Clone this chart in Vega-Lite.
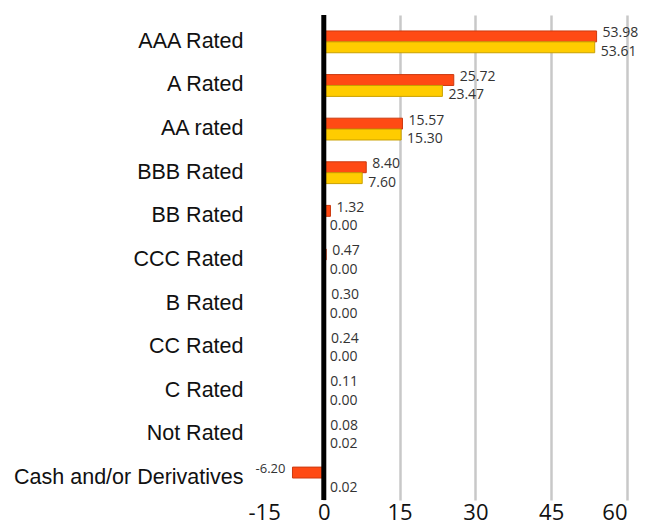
{
  "$schema": "https://vega.github.io/schema/vega-lite/v6.json",
  "autosize": {"type": "none"},
  "padding": {"left": 248, "top": 15, "right": 29, "bottom": 25},
  "width": 379,
  "height": 485,
  "background": "white",
  "config": {
    "view": {"stroke": null},
    "font": "Liberation Sans",
    "locale": {
      "number": {
        "decimal": ".",
        "thousands": ",",
        "grouping": [3],
        "currency": ["$", ""],
        "minus": "-"
      }
    }
  },
  "data": {
    "values": [
      {"cat": "AAA Rated", "series": "Fund", "value": 53.98},
      {"cat": "AAA Rated", "series": "Benchmark", "value": 53.61},
      {"cat": "A Rated", "series": "Fund", "value": 25.72},
      {"cat": "A Rated", "series": "Benchmark", "value": 23.47},
      {"cat": "AA rated", "series": "Fund", "value": 15.57},
      {"cat": "AA rated", "series": "Benchmark", "value": 15.30},
      {"cat": "BBB Rated", "series": "Fund", "value": 8.40},
      {"cat": "BBB Rated", "series": "Benchmark", "value": 7.60},
      {"cat": "BB Rated", "series": "Fund", "value": 1.32},
      {"cat": "BB Rated", "series": "Benchmark", "value": 0.00},
      {"cat": "CCC Rated", "series": "Fund", "value": 0.47},
      {"cat": "CCC Rated", "series": "Benchmark", "value": 0.00},
      {"cat": "B Rated", "series": "Fund", "value": 0.30},
      {"cat": "B Rated", "series": "Benchmark", "value": 0.00},
      {"cat": "CC Rated", "series": "Fund", "value": 0.24},
      {"cat": "CC Rated", "series": "Benchmark", "value": 0.00},
      {"cat": "C Rated", "series": "Fund", "value": 0.11},
      {"cat": "C Rated", "series": "Benchmark", "value": 0.00},
      {"cat": "Not Rated", "series": "Fund", "value": 0.08},
      {"cat": "Not Rated", "series": "Benchmark", "value": 0.02},
      {"cat": "Cash and/or Derivatives", "series": "Fund", "value": -6.20},
      {"cat": "Cash and/or Derivatives", "series": "Benchmark", "value": 0.02}
    ]
  },
  "encoding": {
    "y": {
      "field": "cat",
      "type": "nominal",
      "sort": ["AAA Rated", "A Rated", "AA rated", "BBB Rated", "BB Rated", "CCC Rated", "B Rated", "CC Rated", "C Rated", "Not Rated", "Cash and/or Derivatives"],
      "scale": {"paddingInner": 0.5, "paddingOuter": 0.31, "align": 0.59},
      "axis": {
        "title": null,
        "domain": false,
        "ticks": false,
        "labelFontSize": 21.5,
        "labelColor": "#111111",
        "labelPadding": 5,
        "labelLimit": 400,
        "labelFont": "Liberation Sans"
      }
    },
    "yOffset": {
      "field": "series",
      "type": "nominal",
      "sort": ["Fund", "Benchmark"],
      "scale": {"paddingInner": 0, "paddingOuter": 0}
    },
    "x": {
      "field": "value",
      "type": "quantitative",
      "scale": {"domain": [-15, 60], "nice": false, "zero": false},
      "axis": {
        "title": null,
        "domain": false,
        "ticks": false,
        "values": [-15, 0, 15, 30, 45, 60],
        "labelFontSize": 22,
        "labelColor": "#111111",
        "labelPadding": 2,
        "labelFont": "Open Sans",
        "grid": true,
        "gridWidth": 2.5,
        "gridColor": {"condition": {"test": "datum.value === -15", "value": "transparent"}, "value": "#c8c8c8"}
      }
    }
  },
  "layer": [
    {
      "mark": {"type": "bar", "strokeWidth": 1},
      "encoding": {
        "color": {
          "field": "series",
          "type": "nominal",
          "scale": {"domain": ["Fund", "Benchmark"], "range": ["#ff4a14", "#ffcc00"]},
          "legend": null
        },
        "stroke": {
          "field": "series",
          "type": "nominal",
          "scale": {"domain": ["Fund", "Benchmark"], "range": ["#cc3a10", "#c9a000"]},
          "legend": null
        }
      }
    },
    {
      "data": {"values": [{"z": 0}]},
      "mark": {"type": "rule", "color": "#000000", "strokeWidth": 5},
      "encoding": {"x": {"field": "z", "type": "quantitative"}, "y": null, "yOffset": null}
    },
    {
      "transform": [{"filter": "datum.series === 'Fund' && datum.value >= 0"}],
      "mark": {"type": "text", "align": "left", "baseline": "middle", "dx": 6, "dy": -3, "fontSize": 14, "font": "Open Sans", "color": "#333333"},
      "encoding": {"text": {"field": "value", "type": "quantitative", "format": ".2f"}}
    },
    {
      "transform": [{"filter": "datum.series === 'Fund' && datum.value < 0"}],
      "mark": {"type": "text", "align": "right", "baseline": "middle", "dx": -7, "dy": -4, "fontSize": 13, "font": "Open Sans", "color": "#333333"},
      "encoding": {"text": {"field": "value", "type": "quantitative", "format": ".2f"}}
    },
    {
      "transform": [{"filter": "datum.series === 'Benchmark'"}],
      "mark": {"type": "text", "align": "left", "baseline": "middle", "dx": 6, "dy": 4.5, "fontSize": 14, "font": "Open Sans", "color": "#333333"},
      "encoding": {"text": {"field": "value", "type": "quantitative", "format": ".2f"}}
    }
  ]
}
